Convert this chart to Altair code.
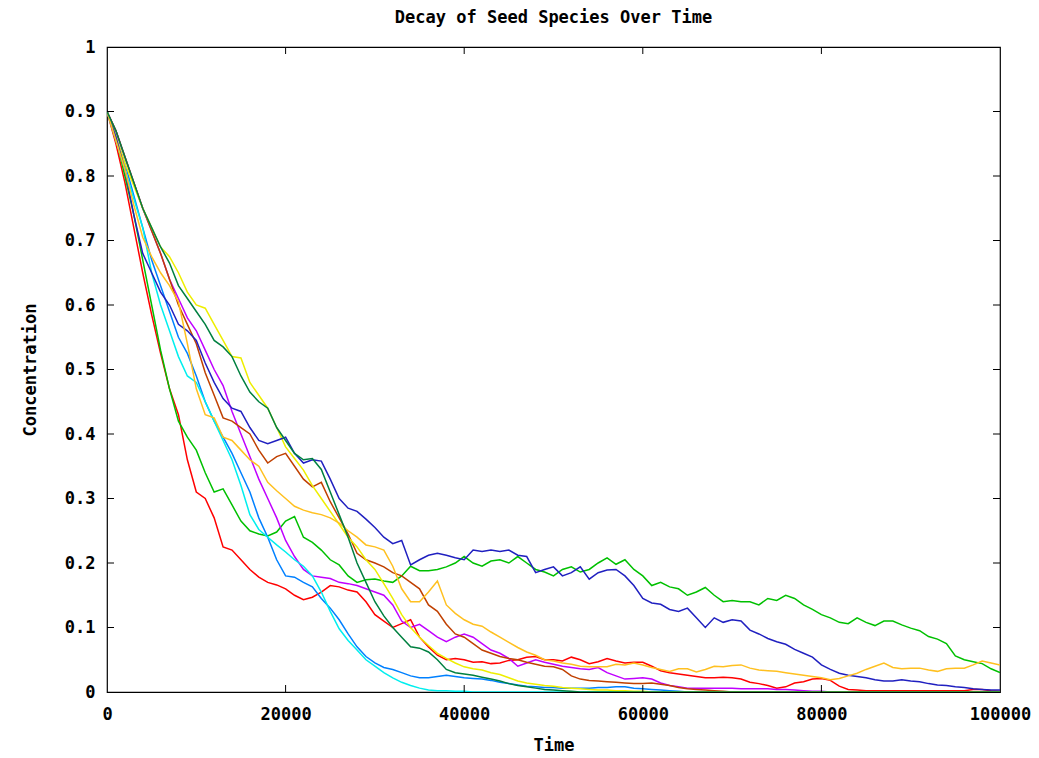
import altair as alt
import pandas as pd

TIME = list(range(0, 100001, 1000))

RED = [0.90, 0.85, 0.79, 0.72, 0.65, 0.585, 0.525, 0.47, 0.43, 0.36,
       0.31, 0.30, 0.27, 0.225, 0.22, 0.205, 0.19, 0.178, 0.17, 0.166,
       0.16, 0.15, 0.143, 0.147, 0.155, 0.165, 0.163, 0.158, 0.155, 0.14,
       0.12, 0.11, 0.10, 0.106, 0.112, 0.085, 0.07, 0.057, 0.05, 0.052,
       0.05, 0.046, 0.047, 0.044, 0.045, 0.049, 0.05, 0.054, 0.055, 0.05,
       0.05, 0.048, 0.054, 0.05, 0.044, 0.047, 0.052, 0.048, 0.045, 0.046,
       0.046, 0.04, 0.033, 0.03, 0.028, 0.026, 0.024, 0.022, 0.022, 0.023,
       0.022, 0.02, 0.015, 0.013, 0.01, 0.006, 0.008, 0.014, 0.016, 0.02,
       0.021, 0.018, 0.009, 0.004, 0.003] + [0.002] * 12 + [0.004, 0.004, 0.002, 0.001]
GREEN = [0.90, 0.86, 0.80, 0.74, 0.67, 0.60, 0.53, 0.47, 0.42, 0.395,
         0.375, 0.34, 0.31, 0.315, 0.29, 0.265, 0.25, 0.245, 0.242, 0.248,
         0.265, 0.272, 0.24, 0.232, 0.22, 0.205, 0.197, 0.18, 0.17, 0.174,
         0.175, 0.172, 0.17, 0.18, 0.195, 0.188, 0.188, 0.19, 0.194, 0.2,
         0.21, 0.2, 0.195, 0.203, 0.205, 0.2, 0.21, 0.2, 0.19, 0.186,
         0.18, 0.19, 0.194, 0.186, 0.19, 0.2, 0.208, 0.198, 0.205, 0.19,
         0.18, 0.165, 0.17, 0.163, 0.16, 0.15, 0.155, 0.162, 0.15, 0.14,
         0.142, 0.14, 0.14, 0.135, 0.145, 0.142, 0.15, 0.145, 0.135, 0.128,
         0.12, 0.115, 0.108, 0.106, 0.115, 0.108, 0.103, 0.11, 0.11, 0.104,
         0.099, 0.095, 0.086, 0.082, 0.075, 0.056, 0.05, 0.047, 0.044, 0.036, 0.03]
LIGHTBLUE = [0.90, 0.86, 0.82, 0.77, 0.72, 0.67, 0.63, 0.59, 0.55, 0.525,
             0.49, 0.45, 0.42, 0.395, 0.37, 0.34, 0.31, 0.27, 0.24, 0.205,
             0.18, 0.178, 0.17, 0.163, 0.145, 0.13, 0.112, 0.09, 0.07, 0.055,
             0.045, 0.038, 0.035, 0.03, 0.025, 0.022, 0.022, 0.024, 0.026, 0.024,
             0.022, 0.021, 0.02, 0.018, 0.015, 0.013, 0.011, 0.009, 0.008, 0.007,
             0.007, 0.006, 0.006, 0.006, 0.006, 0.007, 0.007, 0.008, 0.008, 0.006,
             0.005, 0.004, 0.003, 0.002, 0.001] + [0.0] * 36
MAGENTA = [0.90, 0.87, 0.83, 0.79, 0.75, 0.715, 0.68, 0.64, 0.61, 0.58,
           0.56, 0.53, 0.50, 0.475, 0.435, 0.40, 0.365, 0.33, 0.30, 0.27,
           0.235, 0.21, 0.19, 0.18, 0.178, 0.176, 0.17, 0.168, 0.165, 0.16,
           0.155, 0.15, 0.135, 0.11, 0.10, 0.105, 0.095, 0.085, 0.078, 0.085,
           0.09, 0.085, 0.075, 0.065, 0.06, 0.052, 0.04, 0.045, 0.05, 0.046,
           0.043, 0.04, 0.038, 0.036, 0.035, 0.038, 0.03, 0.025, 0.02, 0.021,
           0.022, 0.02, 0.014, 0.01, 0.008, 0.006, 0.006, 0.006, 0.006, 0.006,
           0.006, 0.005, 0.005, 0.005, 0.005, 0.004, 0.004, 0.003, 0.002, 0.001,
           0.001] + [0.0] * 20
CYAN = [0.90, 0.855, 0.81, 0.765, 0.72, 0.65, 0.60, 0.56, 0.52, 0.49,
        0.48, 0.45, 0.42, 0.39, 0.36, 0.32, 0.275, 0.252, 0.24, 0.228,
        0.217, 0.205, 0.195, 0.18, 0.155, 0.125, 0.098, 0.08, 0.065, 0.05,
        0.04, 0.03, 0.022, 0.015, 0.01, 0.006, 0.003, 0.002, 0.002, 0.001,
        0.001] + [0.0] * 60
BROWN = [0.90, 0.87, 0.83, 0.79, 0.75, 0.715, 0.68, 0.64, 0.60, 0.57,
         0.54, 0.495, 0.46, 0.425, 0.42, 0.41, 0.40, 0.375, 0.355, 0.365,
         0.37, 0.35, 0.33, 0.318, 0.325, 0.295, 0.27, 0.245, 0.215, 0.205,
         0.20, 0.194, 0.185, 0.18, 0.17, 0.16, 0.135, 0.125, 0.105, 0.09,
         0.085, 0.075, 0.065, 0.06, 0.055, 0.052, 0.05, 0.046, 0.043, 0.04,
         0.039, 0.035, 0.025, 0.02, 0.018, 0.017, 0.016, 0.015, 0.014, 0.013,
         0.013, 0.014, 0.012, 0.01, 0.007, 0.005, 0.004, 0.003, 0.002, 0.001] + [0.0] * 31
YELLOW = [0.90, 0.86, 0.82, 0.785, 0.75, 0.72, 0.69, 0.675, 0.65, 0.62,
          0.60, 0.595, 0.57, 0.545, 0.52, 0.518, 0.48, 0.46, 0.44, 0.41,
          0.38, 0.362, 0.344, 0.32, 0.30, 0.28, 0.26, 0.24, 0.225, 0.205,
          0.19, 0.168, 0.145, 0.12, 0.10, 0.085, 0.072, 0.06, 0.052, 0.045,
          0.039, 0.036, 0.034, 0.03, 0.027, 0.022, 0.017, 0.014, 0.012, 0.01,
          0.009, 0.007, 0.006, 0.005, 0.004, 0.003, 0.003, 0.002, 0.002, 0.001,
          0.001] + [0.0] * 40
NAVY = [0.90, 0.86, 0.81, 0.74, 0.68, 0.65, 0.62, 0.60, 0.57, 0.56,
        0.545, 0.51, 0.48, 0.455, 0.44, 0.435, 0.41, 0.39, 0.385, 0.39,
        0.395, 0.37, 0.355, 0.36, 0.358, 0.33, 0.30, 0.285, 0.28, 0.268,
        0.255, 0.24, 0.23, 0.235, 0.197, 0.205, 0.212, 0.215, 0.212, 0.208,
        0.205, 0.22, 0.218, 0.22, 0.218, 0.22, 0.212, 0.21, 0.185, 0.19,
        0.194, 0.18, 0.185, 0.194, 0.175, 0.185, 0.189, 0.19, 0.18, 0.165,
        0.145, 0.138, 0.136, 0.128, 0.125, 0.13, 0.115, 0.10, 0.115, 0.108,
        0.112, 0.11, 0.096, 0.09, 0.083, 0.078, 0.074, 0.066, 0.06, 0.054,
        0.042, 0.035, 0.029, 0.026, 0.024, 0.022, 0.019, 0.017, 0.017, 0.019,
        0.017, 0.016, 0.013, 0.011, 0.01, 0.008, 0.007, 0.005, 0.004, 0.003, 0.003]
ORANGE = [0.90, 0.855, 0.81, 0.755, 0.705, 0.675, 0.65, 0.63, 0.605, 0.54,
          0.47, 0.43, 0.425, 0.395, 0.39, 0.375, 0.36, 0.35, 0.325, 0.312,
          0.30, 0.288, 0.282, 0.278, 0.275, 0.27, 0.262, 0.25, 0.24, 0.228,
          0.225, 0.22, 0.195, 0.16, 0.14, 0.14, 0.155, 0.172, 0.135, 0.122,
          0.112, 0.105, 0.102, 0.093, 0.085, 0.077, 0.069, 0.062, 0.057, 0.05,
          0.048, 0.045, 0.043, 0.04, 0.039, 0.039, 0.039, 0.043, 0.042, 0.045,
          0.042, 0.038, 0.035, 0.032, 0.036, 0.036, 0.031, 0.035, 0.04, 0.039,
          0.041, 0.042, 0.037, 0.034, 0.033, 0.032, 0.03, 0.028, 0.026, 0.024,
          0.022, 0.019, 0.021, 0.025, 0.029, 0.035, 0.04, 0.045, 0.038, 0.036,
          0.037, 0.037, 0.034, 0.032, 0.036, 0.037, 0.037, 0.042, 0.048, 0.045, 0.042]
DARKGREEN = [0.90, 0.87, 0.83, 0.79, 0.75, 0.72, 0.69, 0.665, 0.63, 0.61,
             0.59, 0.57, 0.545, 0.535, 0.52, 0.49, 0.465, 0.45, 0.44, 0.41,
             0.39, 0.37, 0.36, 0.362, 0.345, 0.31, 0.275, 0.24, 0.20, 0.17,
             0.14, 0.118, 0.10, 0.085, 0.07, 0.068, 0.062, 0.05, 0.035, 0.03,
             0.028, 0.026, 0.023, 0.02, 0.017, 0.013, 0.01, 0.008, 0.006, 0.004,
             0.003, 0.002, 0.001] + [0.0] * 48

SERIES = [RED, GREEN, LIGHTBLUE, MAGENTA, CYAN, BROWN, YELLOW, NAVY, ORANGE, DARKGREEN]
COLORS = ["#ff0000", "#00c000", "#0080ff", "#c000ff", "#00eeee",
          "#c04000", "#eeee00", "#2020c0", "#ffc020", "#008040"]

X_TICKS = [0, 20000, 40000, 60000, 80000, 100000]
Y_TICKS = [0, 0.1, 0.2, 0.3, 0.4, 0.5, 0.6, 0.7, 0.8, 0.9, 1.0]

W, H = 893, 645
FONT = "DejaVu Sans Mono"

rows = []
for i, vals in enumerate(SERIES):
    for t, c in zip(TIME, vals):
        rows.append({"series": i, "t": t, "c": c})
df = pd.DataFrame(rows)

xs = alt.Scale(domain=[0, 100000], nice=False, zero=False)
ys = alt.Scale(domain=[0, 1], nice=False)

x_axis = alt.Axis(values=X_TICKS, format="d", title="Time", ticks=False, domain=False,
                  grid=False, labelPadding=14, titlePadding=15, labelFlush=False)
y_axis = alt.Axis(values=Y_TICKS, format=".1~f", title="Concentration", ticks=False,
                  domain=False, grid=False, labelPadding=12, titlePadding=25)

X = lambda f: alt.X(f, scale=xs, axis=x_axis)
Y = lambda f: alt.Y(f, scale=ys, axis=y_axis)

base = alt.Chart(df)
layers = []
for i, col in enumerate(COLORS):
    layers.append(
        base.transform_filter(alt.datum.series == i)
        .mark_line(color=col, strokeWidth=1.5, clip=True)
        .encode(x=X("t:Q"), y=Y("c:Q"))
    )

xt = pd.DataFrame({"t": X_TICKS[1:-1]})
yt = pd.DataFrame({"c": Y_TICKS[1:-1]})
tick_style = dict(color="black", strokeWidth=1)
ticks = [
    alt.Chart(xt).mark_rule(**tick_style).encode(x=X("t:Q"), y=alt.value(H), y2=alt.value(H - 7)),
    alt.Chart(xt).mark_rule(**tick_style).encode(x=X("t:Q"), y=alt.value(0), y2=alt.value(7)),
    alt.Chart(yt).mark_rule(**tick_style).encode(y=Y("c:Q"), x=alt.value(0), x2=alt.value(7)),
    alt.Chart(yt).mark_rule(**tick_style).encode(y=Y("c:Q"), x=alt.value(W), x2=alt.value(W - 7)),
]

chart = alt.layer(*layers, *ticks).properties(
    width=W, height=H,
    background="white",
    title=alt.TitleParams("Decay of Seed Species Over Time", font=FONT, fontSize=17,
                          fontWeight="bold", color="black", offset=11, anchor="middle"),
    autosize=alt.AutoSizeParams(type="none"),
    padding={"left": 107, "top": 47, "right": 39, "bottom": 66},
).configure_view(stroke="black", strokeWidth=1.2).configure_axis(
    labelFont=FONT, labelFontSize=17, labelFontWeight="bold", labelColor="black",
    titleFont=FONT, titleFontSize=17, titleFontWeight="bold", titleColor="black",
)

chart.save("out.html", embed_options={"renderer": "svg", "actions": False})
